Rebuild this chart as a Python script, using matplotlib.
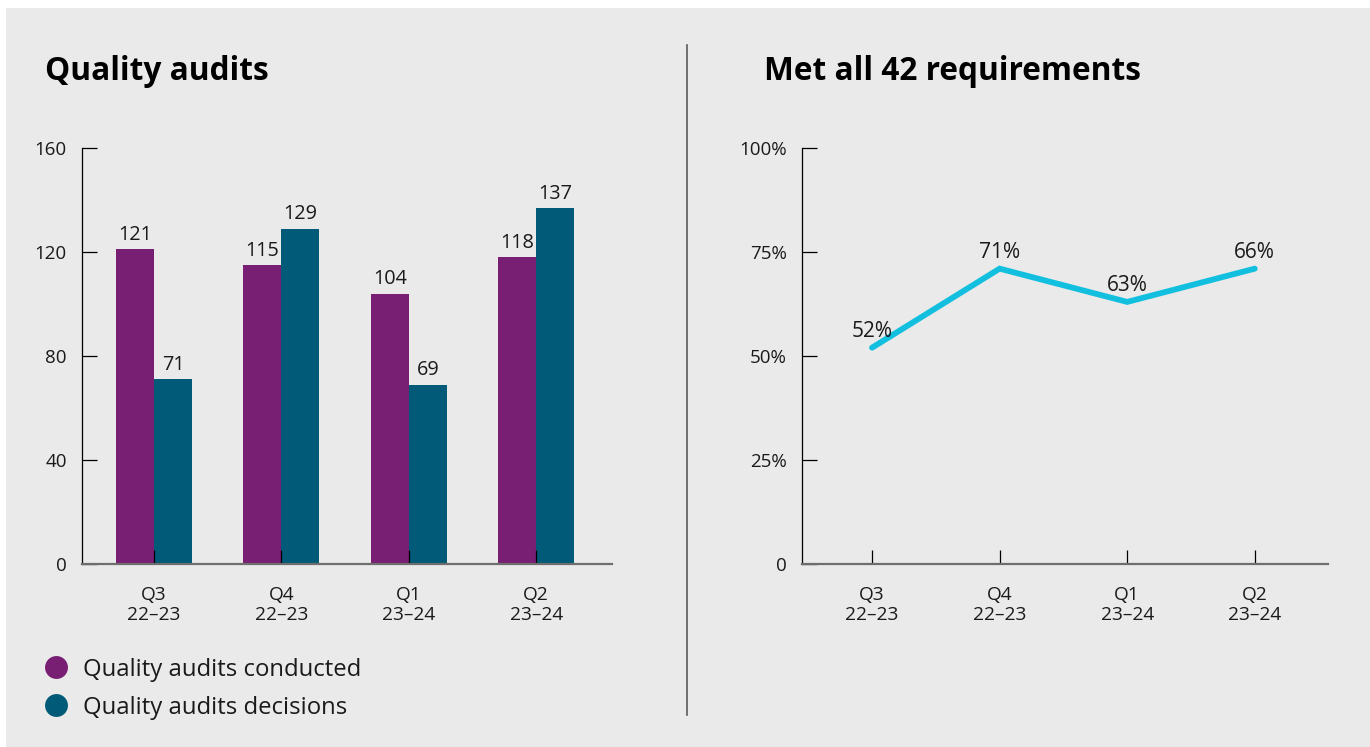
import matplotlib
matplotlib.use("Agg")
import matplotlib.pyplot as plt
from matplotlib.lines import Line2D
from matplotlib.patches import Rectangle
import numpy as np

plt.rcParams['font.family'] = ['Open Sans', 'DejaVu Sans']

# ---- data ----
categories = ["Q3\n22–23", "Q4\n22–23", "Q1\n23–24", "Q2\n23–24"]
series_names = ["Quality audits conducted", "Quality audits decisions"]
audits_conducted = [121, 115, 104, 118]
audits_decisions = [71, 129, 69, 137]
bar_yticks = [0, 40, 80, 120, 160]

met_requirements = [52, 71, 63, 71]
met_labels = ["52%", "71%", "63%", "66%"]
pct_yticks = [0, 25, 50, 75, 100]
pct_yticklabels = ["0", "25%", "50%", "75%", "100%"]

titles = ["Quality audits", "Met all 42 requirements"]

# ---- style ----
BG = "#EAEAEA"
PURPLE = "#781E73"
TEAL = "#005A78"
CYAN = "#12BFDF"
TXT = "#1A1A1A"

W, H = 1370, 747
fig = plt.figure(figsize=(W / 100, H / 100), dpi=100)
fig.patch.set_facecolor("white")
fig.add_artist(Rectangle((6 / W, 0), 1, (H - 8) / H, transform=fig.transFigure,
                         facecolor=BG, edgecolor="none", zorder=-10))

def fx(px):
    return px / W

def fy(py):
    return (H - py) / H

ax1 = fig.add_axes([fx(82), fy(564), fx(612) - fx(82), fy(148) - fy(564)])
ax2 = fig.add_axes([fx(802), fy(564), fx(1328) - fx(802), fy(148) - fy(564)])

def style_axes(ax):
    ax.set_facecolor("none")
    for s in ["top", "right"]:
        ax.spines[s].set_visible(False)
    ax.spines["left"].set_color("black")
    ax.spines["left"].set_linewidth(0.9)
    ax.spines["bottom"].set_color("#6E6E6E")
    ax.spines["bottom"].set_linewidth(1.6)
    ax.tick_params(axis="y", direction="in", length=11, width=0.9, color="black",
                   pad=11, labelsize=13.5, labelcolor=TXT)
    ax.tick_params(axis="x", direction="in", length=10, width=0.9, color="black",
                   pad=16, labelsize=13.8, labelcolor=TXT)

# ---- bar chart ----
x = np.arange(len(categories))
bw = 0.298
b1 = ax1.bar(x - bw / 2, audits_conducted, bw, color=PURPLE, label=series_names[0], zorder=1)
b2 = ax1.bar(x + bw / 2, audits_decisions, bw, color=TEAL, label=series_names[1], zorder=1)
ax1.bar_label(b1, padding=3, fontsize=14.3, color=TXT)
ax1.bar_label(b2, padding=3, fontsize=14.3, color=TXT)
ax1.set_xlim(-0.565, 3.595)
ax1.set_ylim(0, 160)
ax1.set_yticks(bar_yticks)
ax1.set_xticks(x)
ax1.set_xticklabels(categories, linespacing=1.1)
style_axes(ax1)

# ---- line chart ----
ax2.plot(x, met_requirements, color=CYAN, lw=4.2, solid_capstyle="round",
         solid_joinstyle="miter", zorder=3)
for xi, v, lab in zip(x, met_requirements, met_labels):
    ax2.annotate(lab, (xi, v), xytext=(0, 8), textcoords="offset points",
                 ha="center", va="baseline", fontsize=15, color=TXT)
ax2.set_xlim(-0.549, 3.574)
ax2.set_ylim(0, 100)
ax2.set_yticks(pct_yticks)
ax2.set_yticklabels(pct_yticklabels)
ax2.set_xticks(x)
ax2.set_xticklabels(categories, linespacing=1.1)
style_axes(ax2)

# ---- titles ----
fig.text(fx(45), fy(80), titles[0], fontsize=22.8, fontweight="bold", color="black",
         ha="left", va="baseline")
fig.text(fx(764), fy(80), titles[1], fontsize=22.8, fontweight="bold", color="black",
         ha="left", va="baseline")

# ---- divider ----
fig.add_artist(Line2D([fx(687), fx(687)], [fy(45), fy(715)], transform=fig.transFigure,
                      color="#5A5A5A", lw=1.2))

# ---- legend ----
for name, col, py in zip(series_names, [PURPLE, TEAL], [667, 705]):
    fig.add_artist(Line2D([fx(56)], [fy(py)], transform=fig.transFigure, marker="o",
                          ms=16.5, color=col, markeredgewidth=0, linestyle="none"))
    fig.text(fx(83), fy(py), name, fontsize=17.2, color=TXT, ha="left", va="center_baseline")

fig.savefig("out.png", dpi=100, facecolor=fig.get_facecolor())
